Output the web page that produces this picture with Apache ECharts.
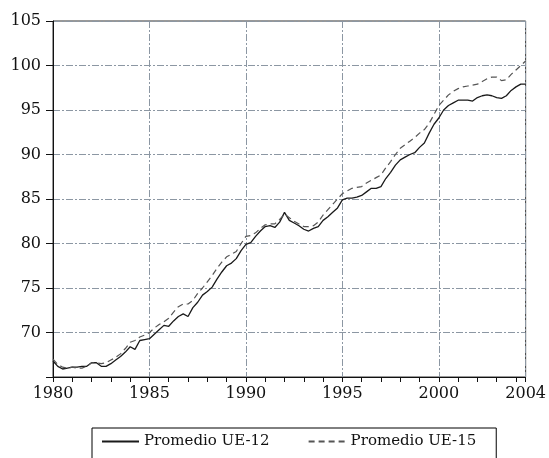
<!DOCTYPE html>
<html>
<head>
<meta charset="utf-8">
<script src="https://cdn.jsdelivr.net/npm/echarts@6/dist/echarts.min.js"></script>
<style>
html,body{margin:0;padding:0;background:#fff;}
#chart{width:549px;height:458px;}
</style>
</head>
<body>
<div id="chart"></div>
<script>
// quarterly series, 1980Q1 .. 2004Q3
var startYear = 1980;
var ue12 = [
  66.8, 66.2, 65.9, 66.0,
  66.1, 66.1, 66.2, 66.2,
  66.6, 66.6, 66.2, 66.2,
  66.5, 66.9, 67.3, 67.8,
  68.4, 68.1, 69.1, 69.2,
  69.3, 69.8, 70.3, 70.8,
  70.7, 71.3, 71.8, 72.1,
  71.8, 72.8, 73.4, 74.2,
  74.6, 75.1, 76.0, 76.8,
  77.5, 77.8, 78.3, 79.2,
  79.9, 80.1, 80.8, 81.4,
  81.9, 82.0, 81.8, 82.4,
  83.5, 82.6, 82.3, 82.0,
  81.6, 81.4, 81.7, 81.9,
  82.6, 83.0, 83.5, 84.0,
  84.9, 85.1, 85.1, 85.2,
  85.4, 85.8, 86.2, 86.2,
  86.4, 87.3, 88.0, 88.8,
  89.4, 89.7, 90.0, 90.2,
  90.8, 91.3, 92.4, 93.4,
  94.1, 95.0, 95.5, 95.8,
  96.1, 96.1, 96.1, 96.0,
  96.4, 96.6, 96.7, 96.6,
  96.4, 96.3, 96.6, 97.2,
  97.6, 97.9, 97.9
];
var ue15 = [
  67.0, 66.4, 66.1, 66.0,
  66.1, 66.0, 66.0, 66.2,
  66.6, 66.6, 66.5, 66.6,
  66.9, 67.2, 67.6, 68.2,
  68.9, 69.1, 69.5, 69.7,
  70.0, 70.5, 70.9, 71.2,
  71.6, 72.3, 72.9, 73.2,
  73.2, 73.6, 74.4, 75.0,
  75.7, 76.4, 77.2, 77.9,
  78.5, 78.8, 79.1, 80.0,
  80.8, 80.9, 81.2, 81.7,
  82.1, 82.2, 82.2, 82.7,
  83.3, 82.9, 82.5, 82.2,
  81.9, 81.9, 82.0, 82.4,
  83.2, 83.8, 84.4, 85.0,
  85.6, 85.9, 86.2, 86.3,
  86.4, 86.8, 87.1, 87.4,
  87.7, 88.5, 89.2, 90.0,
  90.7, 91.1, 91.5, 91.9,
  92.4, 92.8, 93.5, 94.5,
  95.5, 96.1, 96.7, 97.1,
  97.4, 97.6, 97.7, 97.8,
  97.9, 98.2, 98.5, 98.7,
  98.7, 98.3, 98.4, 99.0,
  99.5, 100.0, 100.5
];
var names = ['Promedio UE-12', 'Promedio UE-15'];
var xMin = 1980, xMax = 2004.5, lastLabel = '2004';
var yMin = 65, yMax = 105;

function toPairs(arr){
  return arr.map(function(v, i){ return [startYear + i / 4, v]; });
}

var font = 'DejaVu Serif';
var gridStyle = {color: '#8c97a3', width: 1, type: [7, 2, 2, 2]};

var myChart = echarts.init(document.getElementById('chart'));
myChart.setOption({
  animation: false,
  backgroundColor: '#fff',
  grid: {left: 53, right: 22, top: 21, bottom: 81, show: true, borderColor: '#333', borderWidth: 1},
  legend: {
    left: 92, top: 428,
    padding: [6, 20, 12, 9],
    borderColor: '#000', borderWidth: 1,
    itemWidth: 37, itemHeight: 14, itemGap: 38,
    itemStyle: {opacity: 0},
    data: names,
    textStyle: {fontFamily: font, fontSize: 15, color: '#111'}
  },
  xAxis: [
    {
      // yearly ticks, labels every 5 years and at the end
      type: 'value', min: xMin, max: xMax, interval: 1,
      axisLine: {show: true, lineStyle: {color: '#111', width: 1}},
      axisTick: {show: true, length: 5, lineStyle: {color: '#111'}},
      axisLabel: {
        show: true, margin: 9, color: '#111', fontFamily: font, fontSize: 16,
        showMaxLabel: true, showMinLabel: true, hideOverlap: false,
        formatter: function(v){
          if (v === xMax) return lastLabel;
          return v % 5 === 0 ? String(v) : '';
        }
      },
      splitLine: {show: false}
    },
    {
      // 5-year grid lines
      type: 'value', min: xMin, max: xMax, interval: 5, position: 'bottom',
      axisLine: {show: false},
      axisTick: {show: false},
      axisLabel: {show: false},
      splitLine: {show: true, lineStyle: gridStyle}
    }
  ],
  yAxis: {
    type: 'value', min: yMin, max: yMax, interval: 5,
    axisLine: {show: true, lineStyle: {color: '#111', width: 1}},
    axisTick: {show: true, length: 7, lineStyle: {color: '#111'}},
    axisLabel: {
      margin: 12, color: '#111', fontFamily: font, fontSize: 16,
      formatter: function(v){ return v === yMin ? '' : String(v); }
    },
    splitLine: {show: true, lineStyle: gridStyle}
  },
  series: [
    {
      name: names[0], type: 'line', xAxisIndex: 0, data: toPairs(ue12),
      symbol: 'none', lineStyle: {color: '#1a1a1a', width: 1.3, type: 'solid'},
      itemStyle: {color: '#1a1a1a'}
    },
    {
      name: names[1], type: 'line', xAxisIndex: 0, data: toPairs(ue15),
      symbol: 'none', lineStyle: {color: '#555', width: 1.2, type: [6, 4]},
      itemStyle: {color: '#555'}
    }
  ]
});
</script>
</body>
</html>
